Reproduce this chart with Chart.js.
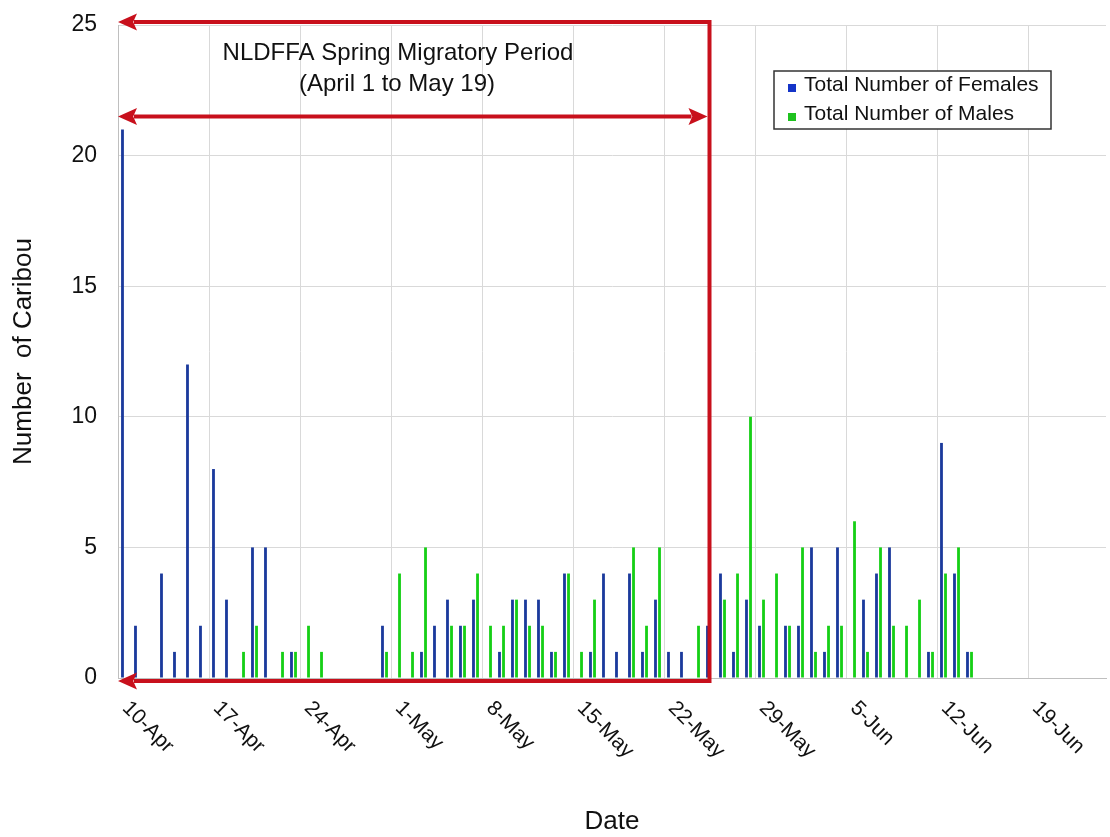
<!DOCTYPE html>
<html>
<head>
<meta charset="utf-8">
<title>Number of Caribou by Date</title>
<script src="https://cdn.jsdelivr.net/npm/chart.js@4.4.0/dist/chart.umd.min.js"></script>
<style>
    html, body { margin: 0; padding: 0; background: #fff; }
    #caribouChart { display: block; }
</style>
</head>
<body>
<canvas id="caribouChart" width="1110" height="837"></canvas>
<script>
/* ========================================
   Caribou counts by date
   ======================================== */

// One category per day, 10-Apr to 24-Jun
const dayLabels = [
    '10-Apr', '11-Apr', '12-Apr', '13-Apr', '14-Apr', '15-Apr', '16-Apr', '17-Apr', '18-Apr', '19-Apr',
    '20-Apr', '21-Apr', '22-Apr', '23-Apr', '24-Apr', '25-Apr', '26-Apr', '27-Apr', '28-Apr', '29-Apr',
    '30-Apr', '1-May', '2-May', '3-May', '4-May', '5-May', '6-May', '7-May', '8-May', '9-May',
    '10-May', '11-May', '12-May', '13-May', '14-May', '15-May', '16-May', '17-May', '18-May', '19-May',
    '20-May', '21-May', '22-May', '23-May', '24-May', '25-May', '26-May', '27-May', '28-May', '29-May',
    '30-May', '31-May', '1-Jun', '2-Jun', '3-Jun', '4-Jun', '5-Jun', '6-Jun', '7-Jun', '8-Jun',
    '9-Jun', '10-Jun', '11-Jun', '12-Jun', '13-Jun', '14-Jun', '15-Jun', '16-Jun', '17-Jun', '18-Jun',
    '19-Jun', '20-Jun', '21-Jun', '22-Jun', '23-Jun', '24-Jun'
];

// Labels shown under the axis (weekly)
const tickLabels = ['10-Apr', '17-Apr', '24-Apr', '1-May', '8-May', '15-May', '22-May', '29-May', '5-Jun', '12-Jun', '19-Jun'];

const yTicks = [0, 5, 10, 15, 20, 25];

const females = [
    21, 2, 0, 4, 1, 12, 2, 8, 3, 0,
    5, 5, 0, 1, 0, 0, 0, 0, 0, 0,
    2, 0, 0, 1, 2, 3, 2, 3, 0, 1,
    3, 3, 3, 1, 4, 0, 1, 4, 1, 4,
    1, 3, 1, 1, 0, 2, 4, 1, 3, 2,
    0, 2, 2, 5, 1, 5, 0, 3, 4, 5,
    0, 0, 1, 9, 4, 1, 0, 0, 0, 0,
    0, 0, 0, 0, 0, 0
];

const males = [
    0, 0, 0, 0, 0, 0, 0, 0, 0, 1,
    2, 0, 1, 1, 2, 1, 0, 0, 0, 0,
    1, 4, 1, 5, 0, 2, 2, 4, 2, 2,
    3, 2, 2, 1, 4, 1, 3, 0, 0, 5,
    2, 5, 0, 0, 2, 0, 3, 4, 10, 3,
    4, 2, 5, 1, 2, 2, 6, 1, 5, 2,
    2, 3, 1, 4, 5, 1, 0, 0, 0, 0,
    0, 0, 0, 0, 0, 0
];

const seriesNames = ['Total Number of Females', 'Total Number of Males'];

// Spring migratory period marker
const periodEndLabel = '25-May';
const periodArrowValue = 21.5;
const periodTitle = 'NLDFFA Spring Migratory Period';
const periodSubtitle = '(April 1 to May 19)';

const FONT = '"Liberation Sans", Arial, sans-serif';
const RED = '#c8101c';

Chart.defaults.font.family = FONT;
Chart.defaults.color = '#111';

document.addEventListener('DOMContentLoaded', function() {
    initCaribouChart();
});

// Draw a horizontal arrow head with the tip at tipX
function drawArrowHead(ctx, tipX, y, dir) {
    const len = 19, half = 8.5;
    ctx.beginPath();
    ctx.moveTo(tipX, y);
    ctx.lineTo(tipX + dir * len, y - half);
    ctx.lineTo(tipX + dir * len * 0.8, y);
    ctx.lineTo(tipX + dir * len, y + half);
    ctx.closePath();
    ctx.fill();
}

// Red lines, arrows and text for the migratory period
const periodPlugin = {
    id: 'period',
    afterDatasetsDraw(chart) {
        const { ctx, chartArea, scales } = chart;
        const left = chartArea.left;
        const endX = scales.x.getPixelForValue(dayLabels.indexOf(periodEndLabel));
        const topY = chartArea.top - 3;
        const midY = scales.y.getPixelForValue(periodArrowValue);
        const baseY = chartArea.bottom + 3;

        ctx.save();
        ctx.strokeStyle = RED;
        ctx.fillStyle = RED;
        ctx.lineWidth = 4;

        ctx.beginPath();
        ctx.moveTo(endX, topY - 2);
        ctx.lineTo(endX, baseY + 2);
        ctx.moveTo(endX + 2, topY);
        ctx.lineTo(left + 16, topY);
        ctx.moveTo(endX + 2, baseY);
        ctx.lineTo(left + 16, baseY);
        ctx.moveTo(left + 16, midY);
        ctx.lineTo(endX - 18, midY);
        ctx.stroke();

        drawArrowHead(ctx, left, topY, 1);
        drawArrowHead(ctx, left, baseY, 1);
        drawArrowHead(ctx, left, midY, 1);
        drawArrowHead(ctx, endX - 2, midY, -1);

        ctx.fillStyle = '#111';
        ctx.font = '24px ' + FONT;
        ctx.textAlign = 'center';
        ctx.textBaseline = 'middle';
        ctx.fillText(periodTitle, 398, 53);
        ctx.fillText(periodSubtitle, 397, 84);
        ctx.restore();
    }
};

// Rotated weekly date labels and the legend box
const labelsPlugin = {
    id: 'labels',
    afterDraw(chart) {
        const { ctx, chartArea, scales } = chart;
        ctx.save();
        ctx.font = '21px ' + FONT;
        ctx.fillStyle = '#111';
        ctx.textAlign = 'left';
        ctx.textBaseline = 'middle';
        tickLabels.forEach(label => {
            const px = scales.x.getPixelForValue(dayLabels.indexOf(label));
            ctx.save();
            ctx.translate(px + 1, chartArea.bottom + 27);
            ctx.rotate(Math.PI / 4);
            ctx.fillText(label, 0, 0);
            ctx.restore();
        });

        // Legend
        ctx.fillStyle = '#fff';
        ctx.fillRect(774, 71, 277, 58);
        ctx.strokeStyle = '#333';
        ctx.lineWidth = 1.5;
        ctx.strokeRect(774, 71, 277, 58);
        ctx.font = '21px ' + FONT;
        chart.data.datasets.forEach((ds, i) => {
            const y = 85 + i * 29;
            ctx.fillStyle = ds.legendColor;
            ctx.fillRect(788, y - 1, 8, 8);
            ctx.fillStyle = '#111';
            ctx.fillText(ds.label, 804, y);
        });
        ctx.restore();
    }
};

function initCaribouChart() {
    const ctx = document.getElementById('caribouChart');
    if (!ctx) return;

    new Chart(ctx, {
        type: 'bar',
        data: {
            labels: dayLabels,
            datasets: [
                {
                    label: seriesNames[0],
                    data: females,
                    backgroundColor: '#1b3a9c',
                    legendColor: '#1434c8',
                    categoryPercentage: 0.62,
                    barPercentage: 0.7
                },
                {
                    label: seriesNames[1],
                    data: males,
                    backgroundColor: '#16cf16',
                    legendColor: '#1fc21f',
                    categoryPercentage: 0.62,
                    barPercentage: 0.7
                }
            ]
        },
        options: {
            responsive: false,
            animation: false,
            layout: {
                padding: { top: 25, right: 4, left: 0, bottom: 0 }
            },
            plugins: {
                legend: { display: false },
                tooltip: { enabled: false }
            },
            scales: {
                x: {
                    offset: true,
                    grid: {
                        offset: true,
                        drawTicks: false,
                        color: c => (c.index % 7 === 0 ? '#d9d9d9' : 'rgba(0, 0, 0, 0)')
                    },
                    border: { color: '#bfbfbf' },
                    ticks: { display: false, autoSkip: false },
                    title: {
                        display: true,
                        text: 'Date',
                        font: { size: 26 },
                        color: '#111',
                        padding: { top: 0, bottom: 0 }
                    },
                    afterFit: s => { s.height = 159; }
                },
                y: {
                    min: 0,
                    max: 25,
                    afterBuildTicks: s => { s.ticks = yTicks.map(v => ({ value: v })); },
                    ticks: {
                        padding: 21,
                        font: { size: 23 },
                        color: '#111'
                    },
                    grid: {
                        color: '#d9d9d9',
                        drawTicks: false
                    },
                    border: { color: '#bfbfbf' },
                    title: {
                        display: true,
                        text: 'Number  of Caribou',
                        font: { size: 26 },
                        color: '#111',
                        padding: { top: 8, bottom: 0 }
                    },
                    afterFit: s => {
                        s.width = 118;
                        s.paddingTop = 0;
                        s.paddingBottom = 0;
                    }
                }
            }
        },
        plugins: [periodPlugin, labelsPlugin]
    });
}
</script>
</body>
</html>
